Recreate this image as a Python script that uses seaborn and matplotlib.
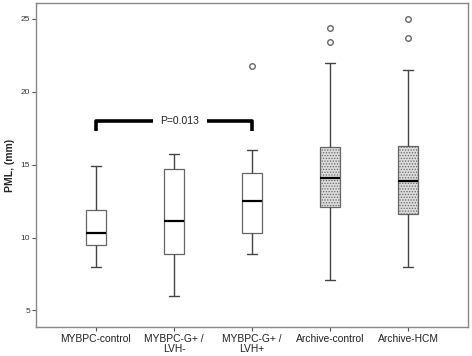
import pandas as pd
import matplotlib.pyplot as plt
import seaborn as sns

# group labels on the x axis
groups = ["MYBPC-control", "MYBPC-G+ /\nLVH-", "MYBPC-G+ /\nLVH+", "Archive-control", "Archive-HCM"]

# values (whisker low, q1, median, q3, whisker high, outliers)
mybpc_control = [8.0, 8.6, 9.2, 9.5, 9.8, 10.1, 10.3, 10.8, 11.4, 11.9, 12.6, 13.8, 14.9]
mybpc_lvh_neg = [6.0, 7.2, 8.3, 8.9, 9.8, 10.5, 11.15, 12.0, 13.5, 14.7, 15.1, 15.4, 15.7]
mybpc_lvh_pos = [8.9, 9.4, 9.9, 10.3, 11.0, 11.8, 12.5, 13.0, 13.8, 14.4, 15.0, 16.0, 21.8]
archive_control = [7.1, 9.5, 11.0, 12.1, 12.9, 13.6, 14.1, 14.8, 15.5, 16.2, 22.0, 23.4, 24.4]
archive_hcm = [8.0, 9.6, 10.8, 11.6, 12.5, 13.3, 13.85, 14.5, 15.3, 16.3, 21.5, 23.7, 25.0]

p_label = "P=0.013"
p_y = 18.0
p_drop = 17.3

if __name__ == "__main__":
    series = [mybpc_control, mybpc_lvh_neg, mybpc_lvh_pos, archive_control, archive_hcm]
    df = pd.DataFrame({
        "group": [g for g, vals in zip(groups, series) for _ in vals],
        "PML": [v for vals in series for v in vals],
    })

    sns.set_style("ticks")
    plt.rcParams["font.family"] = ["Liberation Sans", "DejaVu Sans"]
    plt.rcParams["hatch.color"] = "#8a8a8a"
    plt.rcParams["hatch.linewidth"] = 0.6

    fig = plt.figure(figsize=(4.72, 3.56), dpi=100)
    ax = fig.add_axes([0.076, 0.081, 0.916, 0.911])

    sns.boxplot(ax=ax, data=df, x="group", y="PML", order=groups, width=0.26,
                color="white", linecolor="#666666", linewidth=0.9,
                medianprops=dict(color="black", linewidth=1.6),
                whiskerprops=dict(color="#444444", linewidth=1.0),
                capprops=dict(color="#444444", linewidth=1.0),
                flierprops=dict(marker="o", markersize=4, markerfacecolor="white",
                                markeredgecolor="#666666", markeredgewidth=1.0))

    # stippled fill for the archive groups
    for i, patch in enumerate(ax.patches):
        if i >= 3:
            patch.set_facecolor("#dcdcdc")
            patch.set_hatch("......")

    # significance bracket between groups 0 and 2
    lw = 2.6
    ax.plot([0, 0, 0.73], [p_drop, p_y, p_y], color="black", lw=lw, solid_capstyle="butt")
    ax.plot([1.42, 2, 2], [p_y, p_y, p_drop], color="black", lw=lw, solid_capstyle="butt")
    ax.text(1.075, p_y, p_label, ha="center", va="center", fontsize=7.5, color="#222222")

    ax.set_xlim(-0.77, 4.77)
    ax.set_ylim(3.85, 26.1)
    ax.set_yticks([5, 10, 15, 20, 25])
    ax.set_xlabel("")
    ax.set_ylabel("PML, (mm)", fontsize=7.5, fontweight="bold", labelpad=4)
    ax.tick_params(axis="y", labelsize=6, length=3, width=0.8, color="#555555", labelcolor="#333333", pad=1)
    ax.tick_params(axis="x", labelsize=7.4, length=3, width=0.8, color="#555555", labelcolor="#222222", pad=2)
    for side in ["left", "right", "top", "bottom"]:
        ax.spines[side].set_visible(True)
        ax.spines[side].set_color("#888888")
        ax.spines[side].set_linewidth(1.0)
    for label in ax.get_xticklabels():
        label.set_linespacing(0.95)

    fig.savefig("out.png", dpi=100)
    plt.close()
